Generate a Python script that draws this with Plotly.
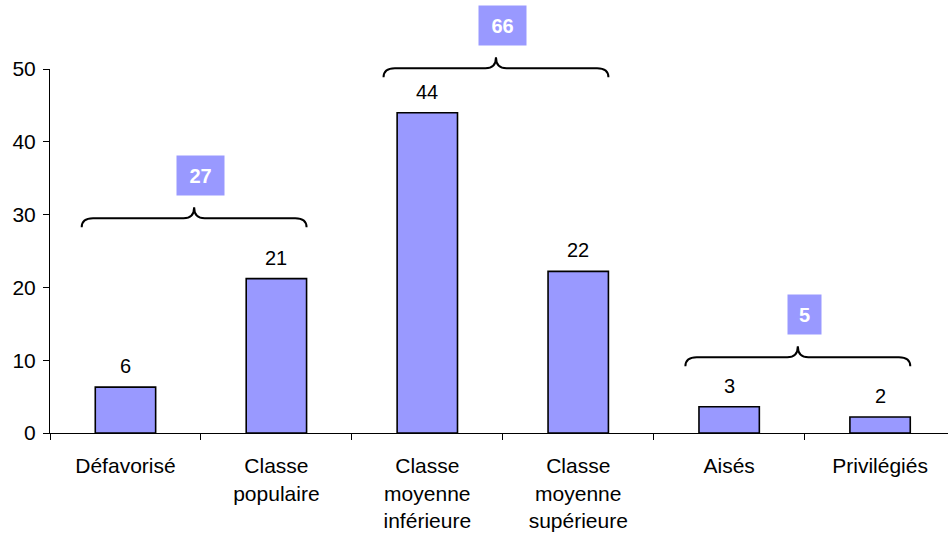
import plotly.graph_objects as go

# ---- data ----
categories = ["Défavorisé", "Classe<br>populaire", "Classe<br>moyenne<br>inférieure",
              "Classe<br>moyenne<br>supérieure", "Aisés", "Privilégiés"]
values = [6.3, 21.2, 44.0, 22.2, 3.6, 2.2]
value_labels = ["6", "21", "44", "22", "3", "2"]
group_first = [0, 2, 4]          # first category of each bracketed pair
group_totals = ["27", "66", "5"]
group_levels = [29.5, 50.1, 10.4]  # height of each brace (value units)
y_ticks = [0, 10, 20, 30, 40, 50]

Y_MAX = 50
BAR_COLOR = "#9999FF"
FONT = "Liberation Sans, Arial, sans-serif"

xs = list(range(len(categories)))

fig = go.Figure()
fig.add_trace(go.Bar(
    x=xs, y=values, width=0.4,
    marker=dict(color=BAR_COLOR, line=dict(color="black", width=1.6)),
    hoverinfo="skip",
))

# value labels above bars
for xi, v, t in zip(xs, values, value_labels):
    fig.add_annotation(x=xi, y=v, xref="x", yref="y", text=t, showarrow=False,
                       yanchor="bottom", yshift=8,
                       font=dict(family=FONT, size=20, color="black"))

# braces and group totals
plot_h = 533 - 69 - 100
for g, tot, lvl in zip(group_first, group_totals, group_levels):
    x0 = g - 0.29
    x1 = g + 1.2
    xc = (x0 + x1) / 2
    yl = lvl / Y_MAX
    ye = yl - 9 / plot_h
    yt = yl + 11 / plot_h
    dx = 0.075
    dc = 0.07
    path = (f"M {x0},{ye} Q {x0},{yl} {x0+dx},{yl} L {xc-dc},{yl} "
            f"Q {xc},{yl} {xc},{yt} Q {xc},{yl} {xc+dc},{yl} "
            f"L {x1-dx},{yl} Q {x1},{yl} {x1},{ye}")
    fig.add_shape(type="path", path=path, xref="x", yref="paper",
                  line=dict(color="black", width=2))
    fig.add_annotation(x=g + 0.5, y=yt, xref="x", yref="paper", text=f"<b>{tot}</b>",
                       showarrow=False, yanchor="bottom", yshift=11,
                       width=14 * len(tot) + 17, height=37, bgcolor=BAR_COLOR,
                       font=dict(family=FONT, size=20, color="white"))

fig.update_layout(
    width=948, height=533,
    margin=dict(l=50, r=0, t=69, b=100),
    paper_bgcolor="white", plot_bgcolor="white",
    showlegend=False,
    font=dict(family=FONT, size=20, color="black"),
    xaxis=dict(
        range=[-0.5, len(categories) - 0.55],
        tickvals=xs, ticktext=categories, ticks="",
        showline=True, linecolor="black", linewidth=1,
        showgrid=False, zeroline=False, automargin=False,
        ticklabelstandoff=14,
        minor=dict(ticks="outside", tick0=-0.5, dtick=1, ticklen=6,
                   tickcolor="black", showgrid=False),
        tickfont=dict(family=FONT, size=21, color="black"),
    ),
    yaxis=dict(
        range=[0, Y_MAX], tickvals=y_ticks,
        ticks="outside", ticklen=6, tickcolor="black",
        showline=True, linecolor="black", linewidth=1,
        showgrid=False, zeroline=False, automargin=False,
        ticklabelstandoff=3,
        tickfont=dict(family=FONT, size=21, color="black"),
    ),
)

fig.write_html("out.html", config={"displayModeBar": False},
               post_script="document.body.style.margin='0';document.body.style.overflow='hidden';")
